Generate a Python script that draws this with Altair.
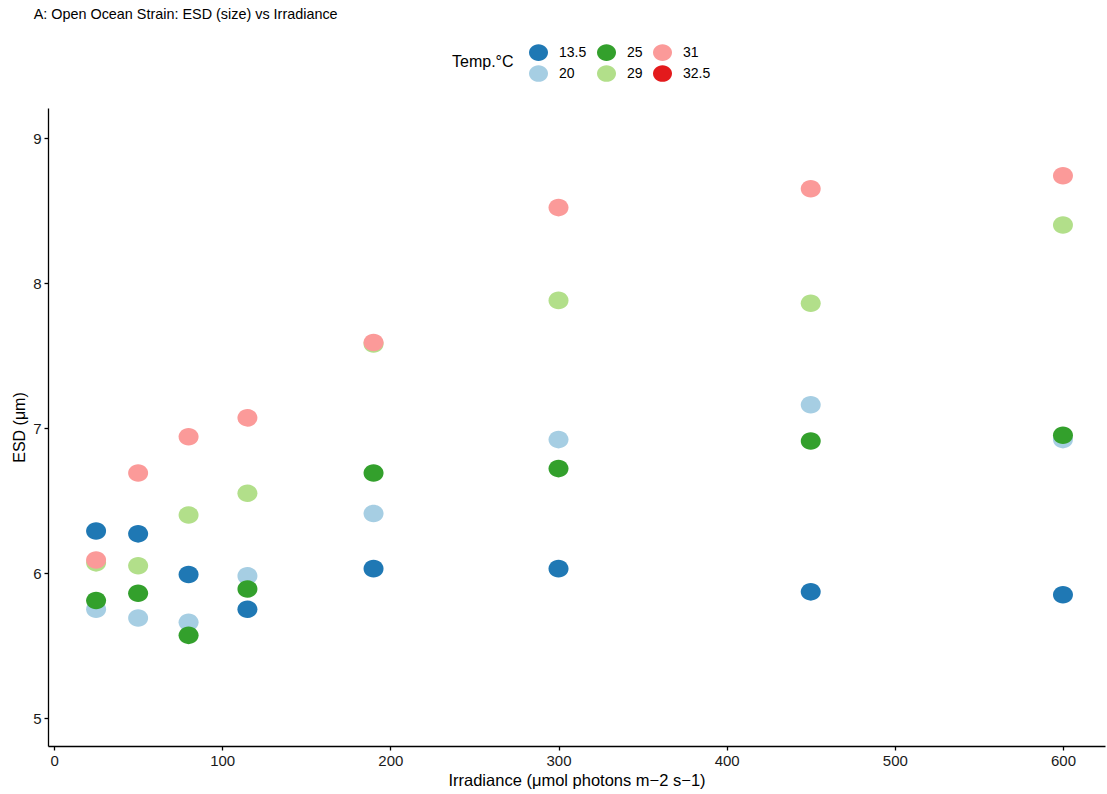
import altair as alt
import pandas as pd

irradiance = [25, 50, 80, 115, 190, 300, 450, 600]
temps = ["13.5", "20", "25", "29", "31"]
esd_13_5 = [6.29, 6.27, 5.99, 5.75, 6.03, 6.03, 5.87, 5.85]
esd_20 = [5.75, 5.69, 5.66, 5.98, 6.41, 6.92, 7.16, 6.92]
esd_25 = [5.81, 5.86, 5.57, 5.89, 6.69, 6.72, 6.91, 6.95]
esd_29 = [6.07, 6.05, 6.40, 6.55, 7.58, 7.88, 7.86, 8.40]
esd_31 = [6.09, 6.69, 6.94, 7.07, 7.59, 8.52, 8.65, 8.74]

legend_order = ["13.5", "25", "31", "20", "29", "32.5"]
legend_colors = ["#1F78B4", "#33A02C", "#FB9A99", "#A6CEE3", "#B2DF8A", "#E31A1C"]

rows = []
for t, vals in zip(temps, [esd_13_5, esd_20, esd_25, esd_29, esd_31]):
    for x, y in zip(irradiance, vals):
        rows.append({"Irradiance": x, "ESD": y, "Temp": t})
df = pd.DataFrame(rows)

ellipse = "M -1 0 A 1 0.88 0 1 0 1 0 A 1 0.88 0 1 0 -1 0 Z"
FONT = "Liberation Sans"

chart = alt.Chart(df).mark_point(
    filled=True, opacity=1, shape=ellipse, size=400, strokeWidth=0
).encode(
    x=alt.X("Irradiance:Q",
            scale=alt.Scale(domain=[-3.6, 625], nice=False, zero=False),
            axis=alt.Axis(values=[0, 100, 200, 300, 400, 500, 600],
                          title="Irradiance (μmol photons m−2 s−1)")),
    y=alt.Y("ESD:Q",
            scale=alt.Scale(domain=[4.807, 9.207], nice=False, zero=False),
            axis=alt.Axis(values=[5, 6, 7, 8, 9], title="ESD (μm)")),
    color=alt.Color("Temp:N",
                    scale=alt.Scale(domain=legend_order, range=legend_colors),
                    legend=alt.Legend(title="Temp.°C", orient="none",
                                      legendX=404, legendY=-65,
                                      columns=3, direction="horizontal",
                                      titleOrient="left", symbolType=ellipse,
                                      symbolSize=361, symbolStrokeWidth=0,
                                      symbolOpacity=1,
                                      labelFont=FONT, labelFontSize=14,
                                      labelColor="black",
                                      titleFont=FONT, titleFontSize=16,
                                      titleFontWeight="normal", titleColor="black",
                                      rowPadding=3, columnPadding=10,
                                      labelOffset=11, titlePadding=15)),
    order=alt.Order("Temp:N"),
).properties(
    width=1057, height=638,
    title=alt.TitleParams("A: Open Ocean Strain: ESD (size) vs Irradiance",
                          anchor="start", dx=22, offset=21, font=FONT,
                          fontSize=14.4, fontWeight="normal", color="black"),
    padding={"left": 48, "top": 108, "right": 2, "bottom": 48},
    autosize=alt.AutoSizeParams(type="none"),
).configure_view(stroke=None).configure_axis(
    grid=False, domainColor="black", domainWidth=1.3, tickColor="black",
    tickSize=4, tickWidth=1.3, labelFont=FONT, labelFontSize=15, labelColor="#1a1a1a",
    titleFont=FONT, titleFontSize=16, titleFontWeight="normal", titleColor="black",
    labelPadding=3,
).configure_axisX(titlePadding=4, titleFontSize=16.5).configure_axisY(titlePadding=5)

chart.save("out.html", embed_options={"renderer": "svg", "actions": False})
